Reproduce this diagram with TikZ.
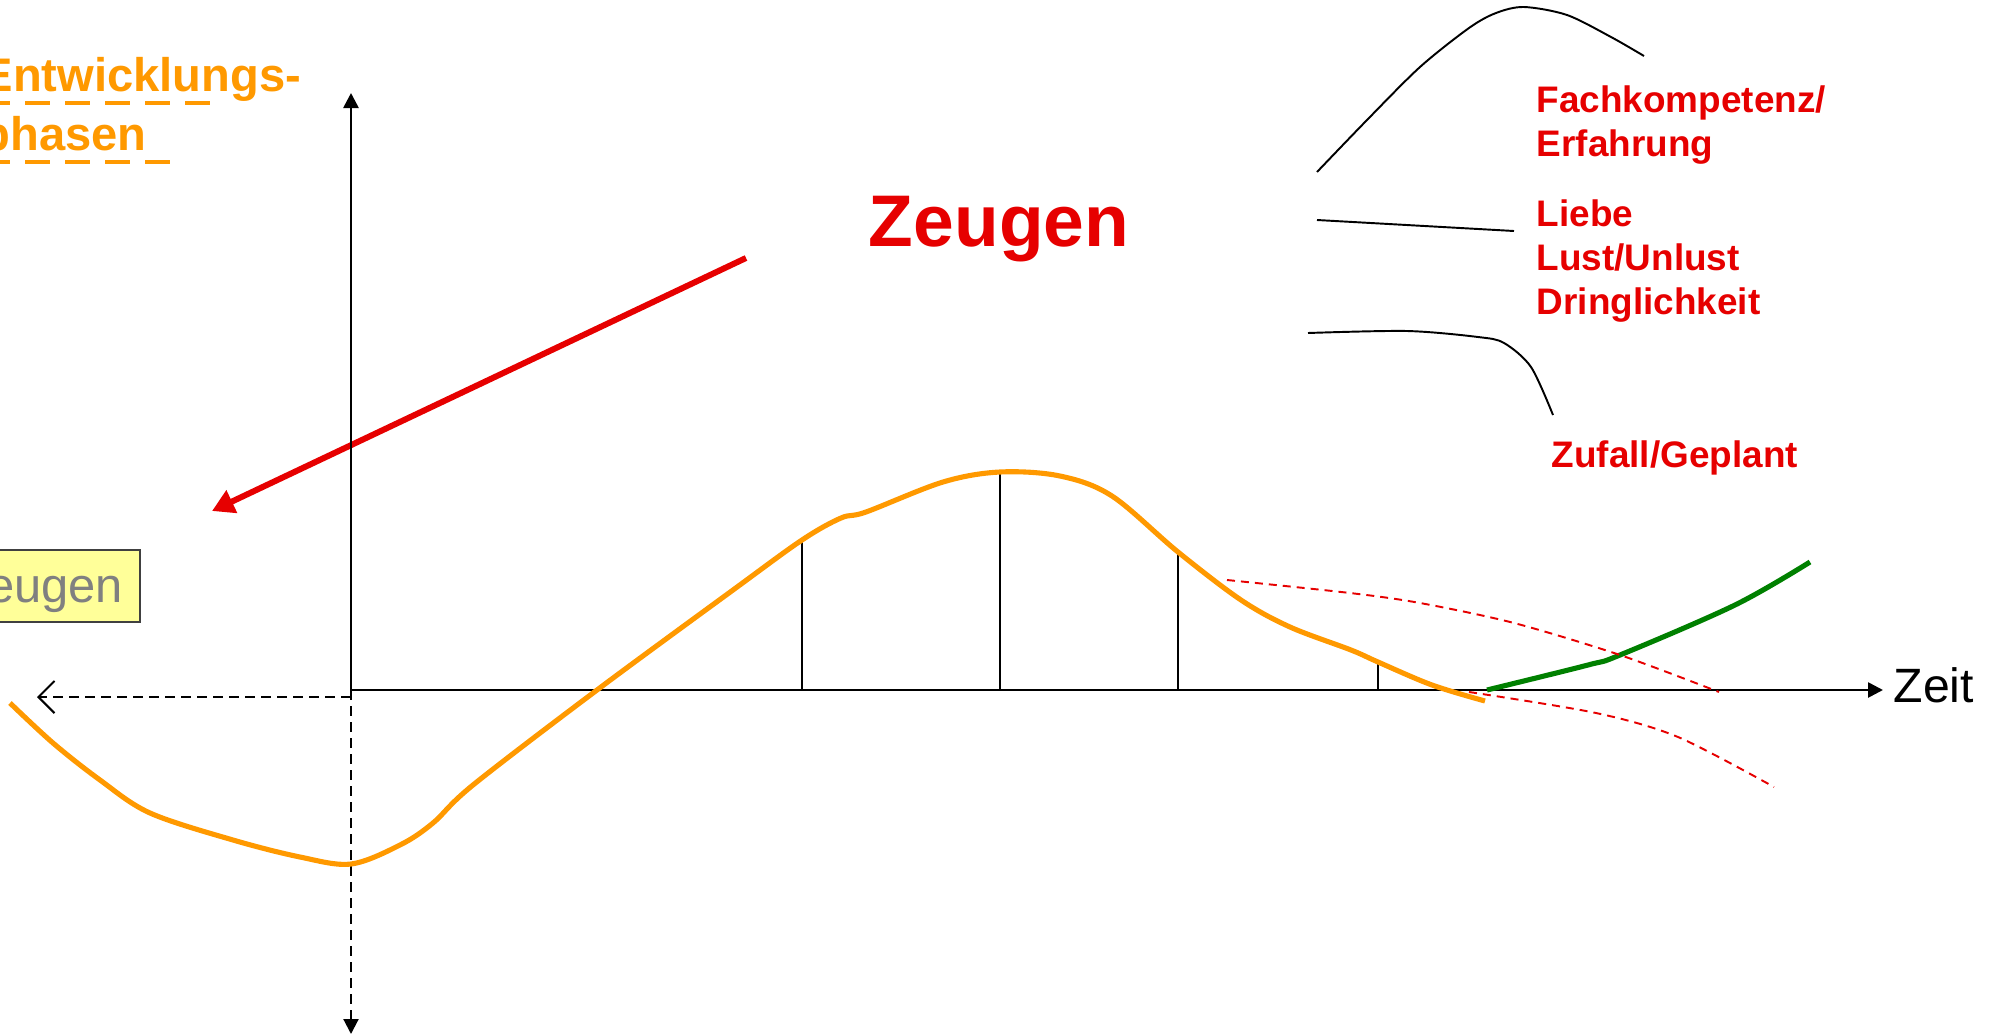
\documentclass[tikz,border=0pt]{standalone}
\usepackage{fontspec}
\setmainfont{Liberation Sans}
\usepackage{xcolor}
\usetikzlibrary{arrows.meta,positioning}
\definecolor{phaseorange}{HTML}{FF9900}
\definecolor{zred}{HTML}{E60000}
\definecolor{zgreen}{HTML}{008000}
\definecolor{zyellow}{HTML}{FFFF99}

\begin{document}
\begin{tikzpicture}[
    x=0.01cm,
    y=-0.01cm,
    axisline/.style={line width=0.75pt, black},
    guide/.style={line width=0.6pt, black, dash pattern=on 1mm off 0.6mm},
    tickline/.style={line width=0.6pt, black},
    phase/.style={line width=1.45pt, phaseorange},
    rise/.style={line width=1.45pt, zgreen},
    alt/.style={line width=0.55pt, zred, dash pattern=on 0.8mm off 0.6mm},
    hint/.style={line width=0.55pt, black},
    factor/.style={
        text=zred,
        font=\bfseries\fontsize{10.5}{12.5}\selectfont,
        align=left,
        anchor=base west,
        inner sep=0pt
    },
    arr/.style={line width=1.7pt, zred, -{Triangle[length=2.2mm, width=2.4mm]}}
]
\useasboundingbox (0,0) rectangle (1993,1036);
\clip (0,0) rectangle (1993,1036);

% title and box on the left
\node[text=phaseorange, font=\bfseries\fontsize{13.4}{16.5}\selectfont,
      align=left, anchor=base west, inner sep=0pt] (title) at (-19,150)
{Entwicklungs-\\phasen};
\draw[phaseorange, line width=1.4pt, dash pattern=on 2.5mm off 1.5mm] (-15,103) -- (210,103);
\draw[phaseorange, line width=1.4pt, dash pattern=on 2.5mm off 1.5mm] (-15,162) -- (170,162);

\node[draw=black!75, fill=zyellow, line width=0.6pt, text=black!50,
      font=\fontsize{13.9}{16}\selectfont, anchor=east,
      text height=3.4mm, text depth=0.2mm,
      minimum height=7.2mm, inner xsep=1.7mm] (zbox) at (141,586) {Zeugen};

\node[text=zred, font=\bfseries\fontsize{20.8}{25}\selectfont,
      anchor=base, inner sep=0pt] (zeugen) at (999,246) {Zeugen};

\coordinate (arrstart) at (746,258);
\coordinate (arrend) at (212,511);
\draw[arr] (arrstart) -- (arrend);

% axes
\coordinate (O) at (351,690);
\coordinate (ytop) at (351,93);
\coordinate (ybot) at (351,1034);
\coordinate (xend) at (1883,690);
\coordinate (xfrom) at (351,697);
\coordinate (xback) at (37,697);
\draw[axisline, -{Triangle[length=1.5mm, width=1.5mm]}] (O) -- (ytop);
\draw[axisline, -{Triangle[length=1.5mm, width=1.5mm]}] (O) -- (xend);
\draw[guide, -{Triangle[length=1.5mm, width=1.5mm]}] (O) -- (ybot);
\draw[guide, -{Straight Barb[length=1.6mm, width=3.2mm]}] (xfrom) -- (xback);

\node[font=\fontsize{13.7}{16}\selectfont, anchor=base west, inner sep=0pt] (zeit) at (1893,702) {Zeit};

% phase ticks
\draw[tickline] (802,540) -- (802,690);
\draw[tickline] (1000,472) -- (1000,690);
\draw[tickline] (1178,553) -- (1178,690);
\draw[tickline] (1378,663) -- (1378,690);

% curves
\draw[phase] plot[smooth, tension=0.55] coordinates {
    (10,703) (53,743) (100,780) (150,813) (233,840) (300,857) (351,864)
    (400,845) (433,823) (473,785) (597,690) (733,590) (802,540) (841,518)
    (866,512) (943,482) (1000,472) (1060,476) (1112,496) (1178,552)
    (1241,600) (1290,627) (1351,650) (1378,662) (1432,685) (1485,701)};
\draw[rise] plot[smooth, tension=0.55] coordinates {
    (1487,690) (1588,665) (1620,655) (1735,605) (1810,562)};
\draw[alt] plot[smooth] coordinates {
    (1227,580) (1350,593) (1420,603) (1514,623) (1620,655) (1719,692)};
\draw[alt] plot[smooth] coordinates {
    (1469,692) (1596,713) (1678,737) (1774,787)};

% factors on the right
\draw[hint] plot[smooth] coordinates {
    (1317,172) (1367,120) (1420,67) (1469,28) (1496,13) (1524,7)
    (1567,15) (1611,37) (1644,56)};
\draw[hint] (1317,220) -- (1514,231);
\draw[hint] plot[smooth] coordinates {
    (1308,333) (1407,331) (1478,337) (1504,343) (1531,367) (1553,415)};

\node[factor] (fach) at (1536,156) {Fachkompetenz/\\Erfahrung};
\node[factor] (liebe) at (1536,314) {Liebe\\Lust/Unlust\\Dringlichkeit};
\node[factor] (zufall) at (1551,467) {Zufall/Geplant};

\end{tikzpicture}
\end{document}
